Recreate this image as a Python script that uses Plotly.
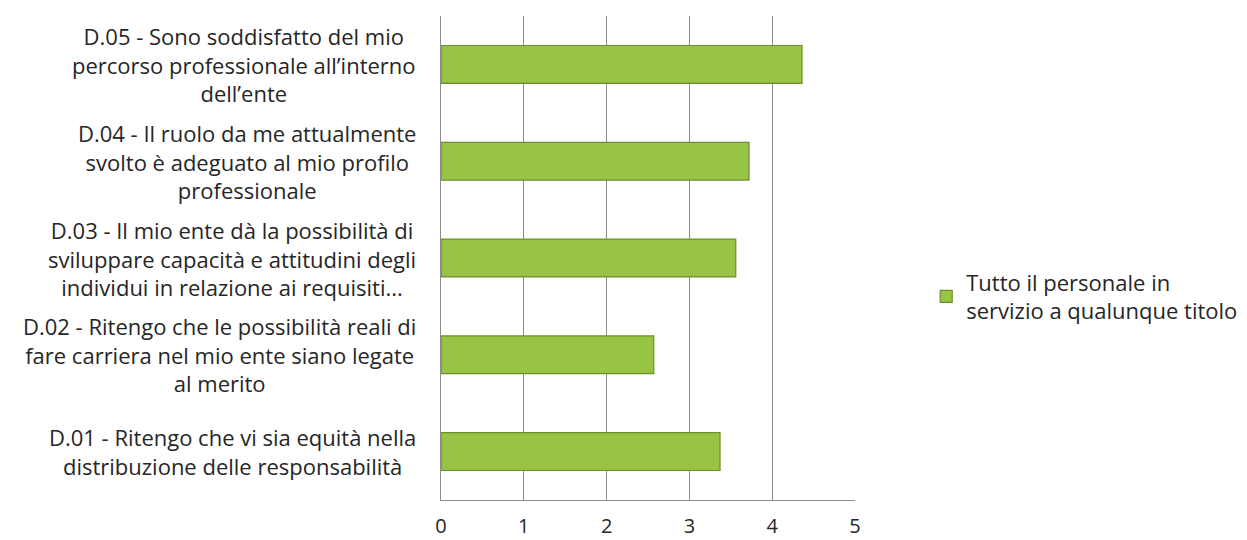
import plotly.graph_objects as go

categories = [
    "D.01 - Ritengo che vi sia equità nella<br>distribuzione delle responsabilità",
    "D.02 - Ritengo che le possibilità reali di<br>fare carriera nel mio ente siano legate<br>al merito",
    "D.03 - Il mio ente dà la possibilità di<br>sviluppare capacità e attitudini degli<br>individui in relazione ai requisiti...",
    "D.04 - Il ruolo da me attualmente<br>svolto è adeguato al mio profilo<br>professionale",
    "D.05 - Sono soddisfatto del mio<br>percorso professionale all’interno<br>dell’ente",
]
values = [3.37, 2.57, 3.56, 3.72, 4.36]
series_name = "Tutto il personale in<br>servizio a qualunque titolo"
x_ticks = [0, 1, 2, 3, 4, 5]

FONT = "Open Sans"
TXT = "#262626"

fig = go.Figure()
fig.add_trace(go.Bar(
    y=list(range(len(categories))), x=values, orientation="h",
    name=series_name, width=0.39,
    marker=dict(color="#97C444", line=dict(color="#6E8E2B", width=1.2)),
    showlegend=True,
))

for i, c in enumerate(categories):
    fig.add_annotation(
        x=0, xref="paper", xshift=-23, y=i, yref="y",
        text=c, showarrow=False, xanchor="right", yanchor="middle",
        align="center", font=dict(family=FONT, size=22, color=TXT),
    )

fig.update_layout(
    width=1247, height=540,
    margin=dict(l=441, r=392, t=16, b=40, autoexpand=False),
    paper_bgcolor="white", plot_bgcolor="white",
    font=dict(family=FONT, size=20, color=TXT),
    legend=dict(x=1.172, xanchor="left", y=0.42, yanchor="middle",
                font=dict(family=FONT, size=22, color=TXT),
                bgcolor="rgba(0,0,0,0)"),
    xaxis=dict(range=[0, 5], tickvals=x_ticks, showgrid=True, gridcolor="#8C8C8C",
               gridwidth=1, showline=True, linecolor="#8C8C8C", linewidth=1,
               zeroline=False, ticks="", tickfont=dict(family=FONT, size=20, color=TXT),
               ticklabelstandoff=8),
    yaxis=dict(range=[-0.5, 4.5], showticklabels=False, showgrid=False, showline=True,
               linecolor="#8C8C8C", linewidth=1, zeroline=False, ticks=""),
)

fig.write_html("out.html", config={"displayModeBar": False},
               post_script="document.body.style.margin='0';")
